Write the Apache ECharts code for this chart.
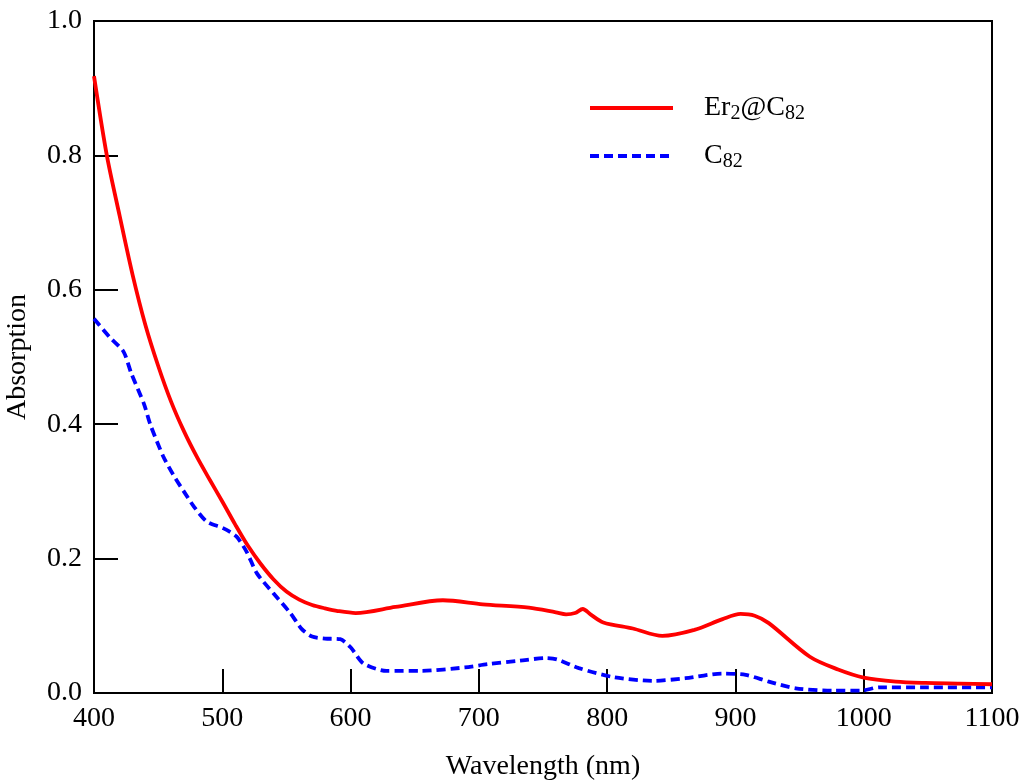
<!DOCTYPE html>
<html><head><meta charset="utf-8">
<script src="https://cdn.jsdelivr.net/npm/echarts@6/dist/echarts.min.js"></script>
<style>html,body{margin:0;padding:0;background:#fff}#c{width:1024px;height:783px}</style>
</head><body><div id="c"></div>
<script>
const erWl = [400,410,420,430,440,450,460,470,480,490,500,510,520,530,540,550,560,570,580,590,604,635,672,703,739,760,768,775,781,787,797,820,843,868,890,904,915,926,958,980,1000,1025,1048,1075,1100];
const erAbs = [0.918,0.80,0.71,0.623,0.548,0.487,0.434,0.390,0.352,0.318,0.285,0.251,0.219,0.192,0.169,0.151,0.139,0.131,0.126,0.122,0.119,0.128,0.138,0.132,0.127,0.120,0.117,0.119,0.125,0.117,0.105,0.096,0.085,0.094,0.110,0.1176,0.115,0.104,0.054,0.035,0.023,0.017,0.015,0.014,0.013];
const c82Wl = [400,412,423,429,439,444,454,462,470,478,488,501,511,519,527,540,553,562,570,580,592,600,610,628,655,689,707,732,752,761,778,804,836,861,890,908,926,947,976,998,1012,1050,1100];
const c82Abs = [0.557,0.530,0.508,0.476,0.43,0.399,0.352,0.324,0.300,0.277,0.255,0.245,0.233,0.210,0.178,0.148,0.119,0.095,0.084,0.081,0.080,0.068,0.044,0.033,0.033,0.038,0.043,0.048,0.052,0.050,0.037,0.024,0.018,0.022,0.029,0.027,0.017,0.007,0.0035,0.0035,0.0085,0.0085,0.0085];
const xTicks = [400,500,600,700,800,900,1000,1100];
const yTicks = ['0.0','0.2','0.4','0.6','0.8','1.0'];

const FONT = '"Liberation Serif","Times New Roman",serif';
const FS = 28;
const chart = echarts.init(document.getElementById('c'), null, {renderer:'canvas'});
const pairs = (xs, ys) => xs.map((x,i)=>[x, ys[i]]);
chart.setOption({
  animation:false,
  backgroundColor:'#fff',
  textStyle:{fontFamily:FONT},
  grid:{left:94,right:32,top:21,bottom:90,show:true,borderColor:'#000',borderWidth:2,containLabel:false,outerBoundsMode:'none'},
  legend:{
    orient:'vertical', left:588, top:92, padding:0, itemWidth:83, itemHeight:14, itemGap:16,
    data:['Er2@C82','C82'],
    itemStyle:{opacity:0},
    lineStyle:{width:4},
    textStyle:{
      fontFamily:FONT, color:'#000', padding:[0,0,0,26],
      rich:{
        a:{fontFamily:FONT,fontSize:FS,color:'#000',lineHeight:34},
        s:{fontFamily:FONT,fontSize:20,color:'#000',padding:[12,0,0,0],lineHeight:34}
      }
    },
    formatter:function(n){ return n==='Er2@C82' ? '{a|Er}{s|2}{a|@C}{s|82}' : '{a|C}{s|82}'; }
  },
  xAxis:{
    type:'value', min:400, max:1100, interval:100,
    name:'Wavelength (nm)', nameLocation:'middle', nameGap:60,
    nameTextStyle:{fontFamily:FONT,fontSize:FS,color:'#000'},
    axisLine:{show:true,lineStyle:{color:'#000',width:2}},
    axisTick:{show:true,inside:true,length:24,lineStyle:{color:'#000',width:2}},
    axisLabel:{fontFamily:FONT,fontSize:FS,color:'#000',margin:12,
      formatter:function(v){return xTicks.indexOf(v)>=0?String(v):'';}},
    splitLine:{show:false}
  },
  yAxis:{
    type:'value', min:0, max:1, interval:0.2,
    name:'Absorption', nameLocation:'middle', nameGap:62, nameRotate:90,
    nameTextStyle:{fontFamily:FONT,fontSize:FS,color:'#000'},
    axisLine:{show:true,lineStyle:{color:'#000',width:2}},
    axisTick:{show:true,inside:true,length:24,lineStyle:{color:'#000',width:2}},
    axisLabel:{fontFamily:FONT,fontSize:FS,color:'#000',margin:12,
      formatter:function(v){return yTicks[Math.round(v*5)];}},
    splitLine:{show:false}
  },
  series:[
    {name:'Er2@C82',type:'line',data:pairs(erWl,erAbs),smooth:0.3,symbol:'none',
     lineStyle:{color:'#ff0000',width:3.8},itemStyle:{color:'#ff0000'},z:3},
    {name:'C82',type:'line',data:pairs(c82Wl,c82Abs),smooth:0.25,symbol:'none',
     lineStyle:{color:'#0000ff',width:3.8,type:[9,5]},itemStyle:{color:'#0000ff'},z:2}
  ]
});
</script></body></html>
